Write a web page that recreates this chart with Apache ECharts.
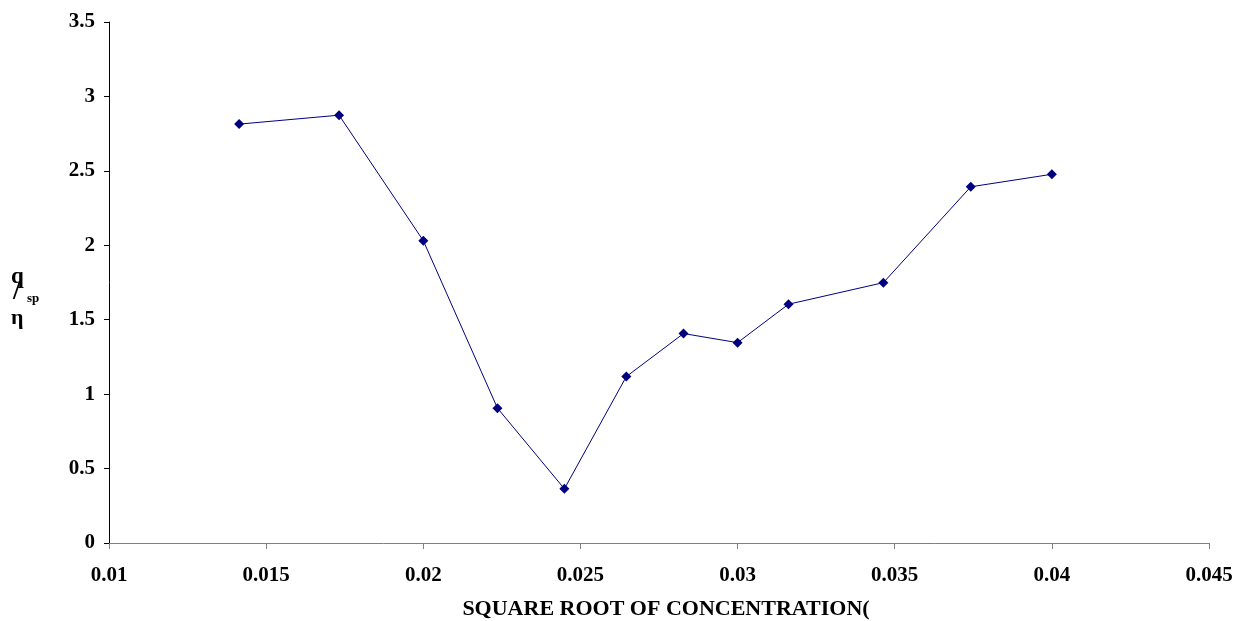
<!DOCTYPE html>
<html>
<head>
<meta charset="utf-8">
<script src="https://cdn.jsdelivr.net/npm/echarts@6/dist/echarts.min.js"></script>
<style>
    html, body { margin: 0; padding: 0; background: #fff; }
    #chart { width: 1236px; height: 621px; }
</style>
</head>
<body>
<div id="chart"></div>
<script>
// square root of concentration (x) and reduced viscosity (y)
var sqrtConc = [0.01414, 0.01732, 0.02, 0.02236, 0.02449, 0.02646, 0.02828, 0.03, 0.03162, 0.03464, 0.03742, 0.04];
var etaSpQ = [2.814, 2.874, 2.031, 0.906, 0.364, 1.118, 1.407, 1.346, 1.604, 1.749, 2.393, 2.477];
var xTicks = [0.01, 0.015, 0.02, 0.025, 0.03, 0.035, 0.04, 0.045];
var yTicks = [0, 0.5, 1, 1.5, 2, 2.5, 3, 3.5];

var font = '"Liberation Serif", "Times New Roman", serif';
var myChart = echarts.init(document.getElementById('chart'));

var points = sqrtConc.map(function (x, i) { return [x, etaSpQ[i]]; });

var options = {
    animation: false,
    grid: { left: 109, right: 27, top: 22, bottom: 78, outerBoundsMode: 'none', containLabel: false },
    xAxis: {
        type: 'value',
        min: xTicks[0],
        max: xTicks[xTicks.length - 1],
        interval: 0.005,
        name: 'SQUARE ROOT OF CONCENTRATION(',
        nameLocation: 'middle',
        nameGap: 55,
        nameTextStyle: { fontFamily: font, fontWeight: 'bold', fontSize: 22, color: '#000', padding: [0, 0, 0, 14] },
        axisLine: { onZero: false, lineStyle: { color: '#808080', width: 1 } },
        axisTick: { show: true, length: 6, lineStyle: { color: '#808080' } },
        axisLabel: {
            margin: 22,
            fontFamily: font, fontWeight: 'bold', fontSize: 21, color: '#000',
            formatter: function (v) { return String(+v.toFixed(3)); }
        },
        splitLine: { show: false }
    },
    yAxis: {
        type: 'value',
        min: yTicks[0],
        max: yTicks[yTicks.length - 1],
        interval: 0.5,
        axisLine: { show: true, lineStyle: { color: '#000', width: 1 } },
        axisTick: { show: true, length: 5, lineStyle: { color: '#000' } },
        axisLabel: {
            margin: 14,
            fontFamily: font, fontWeight: 'bold', fontSize: 21, color: '#000'
        },
        splitLine: { show: false }
    },
    graphic: [
        { type: 'text', left: 11, top: 266, style: { text: 'q', font: 'bold 23px ' + font, fill: '#000' } },
        { type: 'text', left: 13, top: 279, style: { text: '/', font: 'bold 27px ' + font, fill: '#000' } },
        { type: 'text', left: 27, top: 292, style: { text: 'sp', font: 'bold 13px ' + font, fill: '#000' } },
        { type: 'text', left: 11, top: 307, style: { text: 'η', font: 'bold 22px ' + font, fill: '#000' } }
    ],
    series: [{
        type: 'line',
        data: points,
        symbol: 'diamond',
        symbolSize: 10,
        showAllSymbol: true,
        lineStyle: { color: '#000080', width: 1 },
        itemStyle: { color: '#000080' }
    }]
};

myChart.setOption(options);
</script>
</body>
</html>
